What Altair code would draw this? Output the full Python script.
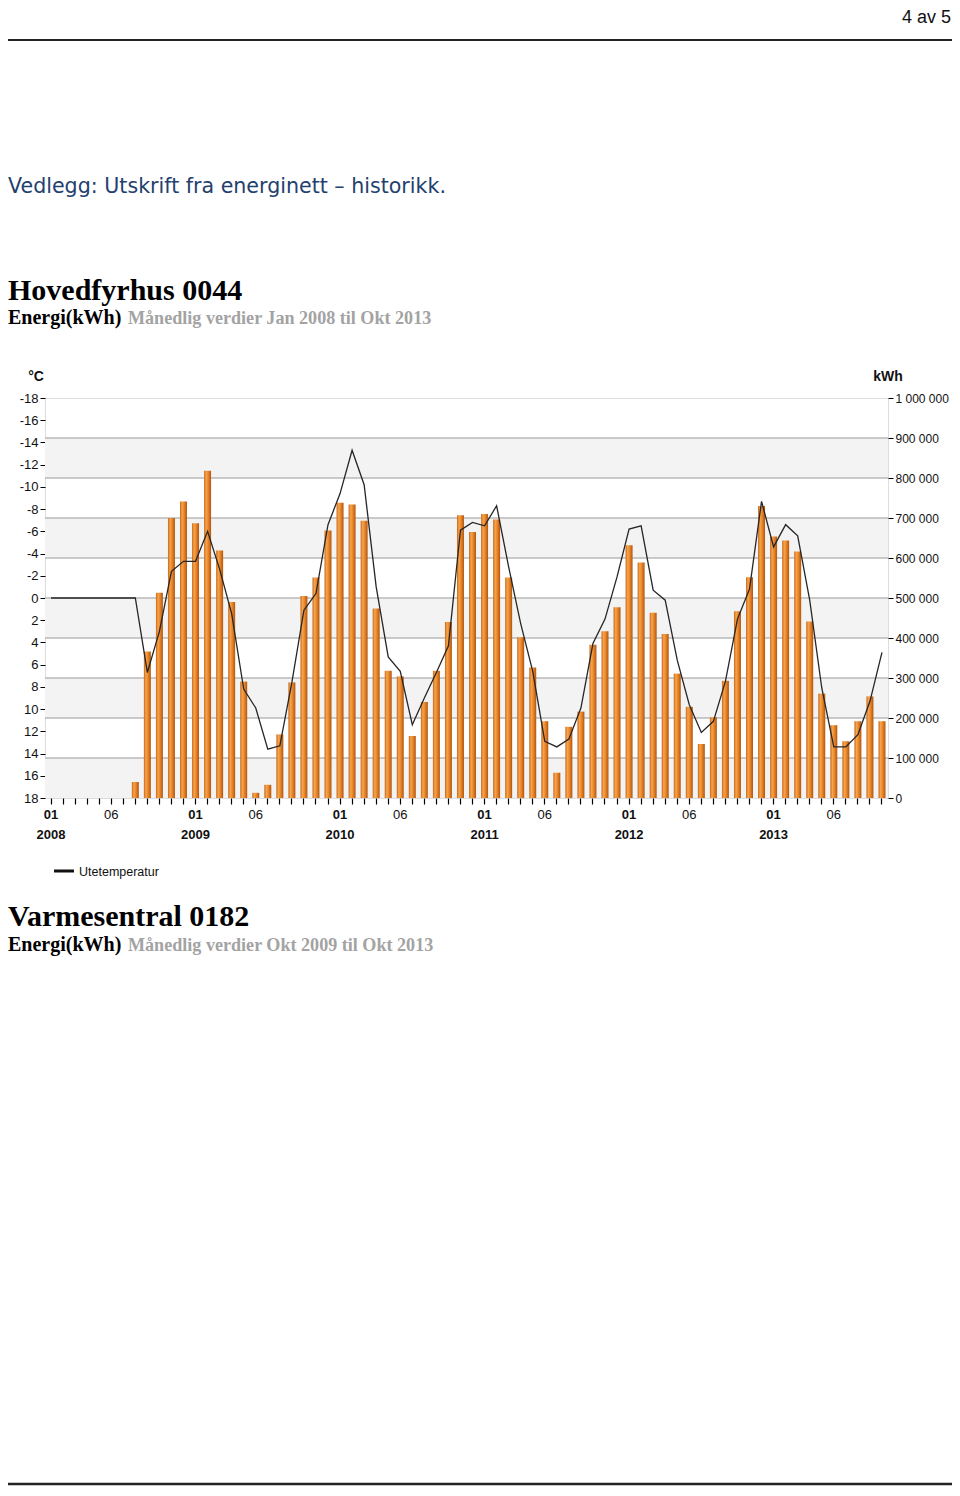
import altair as alt
import pandas as pd

# ---------------- data ----------------
years = [2008, 2009, 2010, 2011, 2012, 2013]
months = [f"{y}-{m:02d}" for y in years for m in range(1, 13)][:70]

# monthly energy, kWh (Jan 2008 .. Oct 2013); no data Jan-Jul 2008
kwh = [None, None, None, None, None, None, None,
       40000, 366000, 513000, 700000, 741000,
       687000, 818000, 619000, 490000, 291000, 13000, 33000, 159000, 289000, 505000, 551000, 669000,
       738000, 734000, 693000, 474000, 318000, 304000, 155000, 240000, 318000, 440000, 707000, 665000,
       710000, 696000, 551000, 402000, 326000, 192000, 63000, 178000, 216000, 383000, 417000, 477000,
       632000, 589000, 463000, 410000, 311000, 228000, 135000, 202000, 293000, 467000, 552000, 730000,
       654000, 644000, 616000, 441000, 261000, 182000, 142000, 192000, 254000, 192000]

# outdoor temperature, deg C
temp = [0, 0, 0, 0, 0, 0, 0,
        0, 6.7, 3.0, -2.4, -3.3,
        -3.3, -6.0, -2.6, 1.4, 8.2, 9.9, 13.6, 13.3, 7.6, 1.1, -0.4, -6.6,
        -9.4, -13.3, -10.2, -1.0, 5.3, 6.6, 11.4, 9.0, 6.7, 4.3, -6.1, -6.8,
        -6.5, -8.3, -2.8, 2.3, 6.6, 12.9, 13.4, 12.7, 9.9, 4.1, 1.9, -1.9,
        -6.2, -6.5, -0.7, 0.2, 5.6, 9.6, 12.1, 11.1, 7.5, 1.9, -0.8, -8.7,
        -4.6, -6.6, -5.6, 0.2, 8.1, 13.4, 13.4, 12.3, 9.3, 4.9]

kwh_ticks = [0, 100000, 200000, 300000, 400000, 500000, 600000, 700000, 800000, 900000, 1000000]
temp_ticks = [-18, -16, -14, -12, -10, -8, -6, -4, -2, 0, 2, 4, 6, 8, 10, 12, 14, 16, 18]
band_lo = [0, 200000, 400000, 600000, 800000]
band_hi = [100000, 300000, 500000, 700000, 900000]
grid_vals = [100000, 200000, 300000, 400000, 500000, 600000, 700000, 800000, 900000]

page_no = "4 av 5"
intro = "Vedlegg: Utskrift fra energinett \u2013 historikk."
title1 = "Hovedfyrhus 0044"
sub1 = "M\u00e5nedlig verdier Jan 2008 til Okt 2013"
title2 = "Varmesentral 0182"
sub2 = "M\u00e5nedlig verdier Okt 2009 til Okt 2013"
energy_lbl = "Energi(kWh)"
legend_lbl = "Utetemperatur"

# ---------------- layout ----------------
W, H = 843, 400
PAD_L, PAD_T, PAD_R, PAD_B = 37, 390, 64, 688
NARROW = "Liberation Sans Narrow, Arial Narrow, Liberation Sans, sans-serif"
SERIF = "Liberation Serif, Times New Roman, serif"
TICK_FS = 13


def rx(px):
    return px - 8 - PAD_L


def ry(py):
    return py - 8 - PAD_T


def text(s, x, y, size, font, weight="normal", color="#000", align="left", baseline="alphabetic"):
    return alt.Chart(pd.DataFrame({"s": [s]})).mark_text(
        align=align, baseline=baseline, font=font, fontSize=size,
        fontWeight=weight, color=color
    ).encode(text="s:N", x=alt.value(rx(x)), y=alt.value(ry(y)))


def hrule(x1, x2, y, width=2, color="#222"):
    return alt.Chart(pd.DataFrame({"a": [0]})).mark_rule(
        color=color, strokeWidth=width
    ).encode(x=alt.value(rx(x1)), x2=alt.value(rx(x2)), y=alt.value(ry(y)))


df = pd.DataFrame({"m": months, "kwh": kwh, "t": temp})
bands = pd.DataFrame({"lo": band_lo, "hi": band_hi})
grid = pd.DataFrame({"g": grid_vals})

xscale = alt.Scale(domain=months, paddingInner=0.42, paddingOuter=0.21)
xaxis = alt.Axis(
    orient="bottom", domain=False, tickSize=6, tickColor="#000", tickWidth=1.2,
    labelAngle=0, labelOverlap=False, labelFont=NARROW, labelFontSize=TICK_FS,
    labelColor="#111", labelPadding=4, labelBaseline="top", labelLineHeight=20,
    labelExpr="substring(datum.value,5,7)=='01' ? ['01', substring(datum.value,0,4)] : (substring(datum.value,5,7)=='06' ? '06' : '')",
    labelFontWeight={"condition": {"test": "substring(datum.value,5,7)=='01'", "value": "bold"}, "value": "normal"},
    title=None,
)
x_enc = alt.X("m:O", scale=xscale, axis=xaxis, title=None)
kscale = alt.Scale(domain=[0, 1000000], nice=False)
kaxis = alt.Axis(
    orient="right", values=kwh_ticks, domain=False, grid=False,
    tickSize=5, tickColor="#000", labelFont=NARROW, labelFontSize=12,
    labelColor="#111", labelPadding=2,
    labelExpr="replace(format(datum.value, ','), regexp(',', 'g'), ' ')",
    title=None,
)

band_layer = alt.Chart(bands).mark_rect(color="#f3f3f3").encode(
    y=alt.Y("lo:Q", scale=kscale, axis=kaxis), y2="hi:Q",
    x=alt.value(0), x2=alt.value(W),
)
grid_layer = alt.Chart(grid).mark_rule(color="#b8b8b8", strokeWidth=1.3).encode(
    y=alt.Y("g:Q", scale=kscale, axis=kaxis), x=alt.value(0), x2=alt.value(W),
)
bar_fill = alt.Gradient(
    gradient="linear",
    stops=[
        alt.GradientStop(color="#c8661c", offset=0),
        alt.GradientStop(color="#f6a54a", offset=0.3),
        alt.GradientStop(color="#e8842a", offset=0.6),
        alt.GradientStop(color="#b0560f", offset=1),
    ],
    x1=0, x2=1, y1=0, y2=0,
)
bar_layer = alt.Chart(df).transform_filter("isValid(datum.kwh)").mark_bar(color=bar_fill).encode(
    x=x_enc,
    y=alt.Y("kwh:Q", scale=kscale, axis=kaxis),
)
kwh_part = alt.layer(band_layer, grid_layer, bar_layer)

line_layer = alt.Chart(df).mark_line(color="#262626", strokeWidth=1.3).encode(
    x=x_enc,
    y=alt.Y("t:Q", scale=alt.Scale(domain=[-18, 18], reverse=True, nice=False),
            axis=alt.Axis(orient="left", values=temp_ticks, domain=False, grid=False,
                          tickSize=5, tickColor="#000", labelFont=NARROW, labelFontSize=TICK_FS,
                          labelColor="#111", labelPadding=2,
                          labelExpr="datum.value < 0 ? '-' + (-datum.value) : '' + datum.value",
                          title=None)),
)

plot = alt.layer(kwh_part, line_layer).resolve_scale(y="independent")

decor = [
    text(page_no, 951, 23, 18, NARROW, color="#111", align="right"),
    hrule(8, 952, 40, 2, "#222"),
    text(intro, 8, 193, 20.6, "DejaVu Sans", color="#23406e"),
    text(title1, 8, 300, 30, SERIF, weight="bold"),
    text(energy_lbl, 8, 324, 20, SERIF, weight="bold"),
    text(sub1, 128, 324, 18.1, SERIF, weight="bold", color="#a3a3a3"),
    text("\u00b0C", 36, 381, 14, NARROW, weight="bold", color="#111", align="center"),
    text("kWh", 888, 381, 14, NARROW, weight="bold", color="#111", align="center"),
    hrule(54, 74, 871, 3, "#111"),
    text(legend_lbl, 79, 876, 12.5, NARROW, color="#111"),
    text(title2, 8, 926, 30, SERIF, weight="bold"),
    text(energy_lbl, 8, 951, 20, SERIF, weight="bold"),
    text(sub2, 128, 951, 18.1, SERIF, weight="bold", color="#a3a3a3"),
    hrule(8, 952, 1484, 2.5, "#222"),
]

chart = alt.layer(plot, *decor).properties(
    width=W, height=H,
    padding={"left": PAD_L, "top": PAD_T, "right": PAD_R, "bottom": PAD_B},
    autosize=alt.AutoSizeParams(type="none"),
).configure_view(stroke="#000", strokeWidth=1.5).configure(background="white")

chart.save("out.html", embed_options={"renderer": "svg", "actions": False})
